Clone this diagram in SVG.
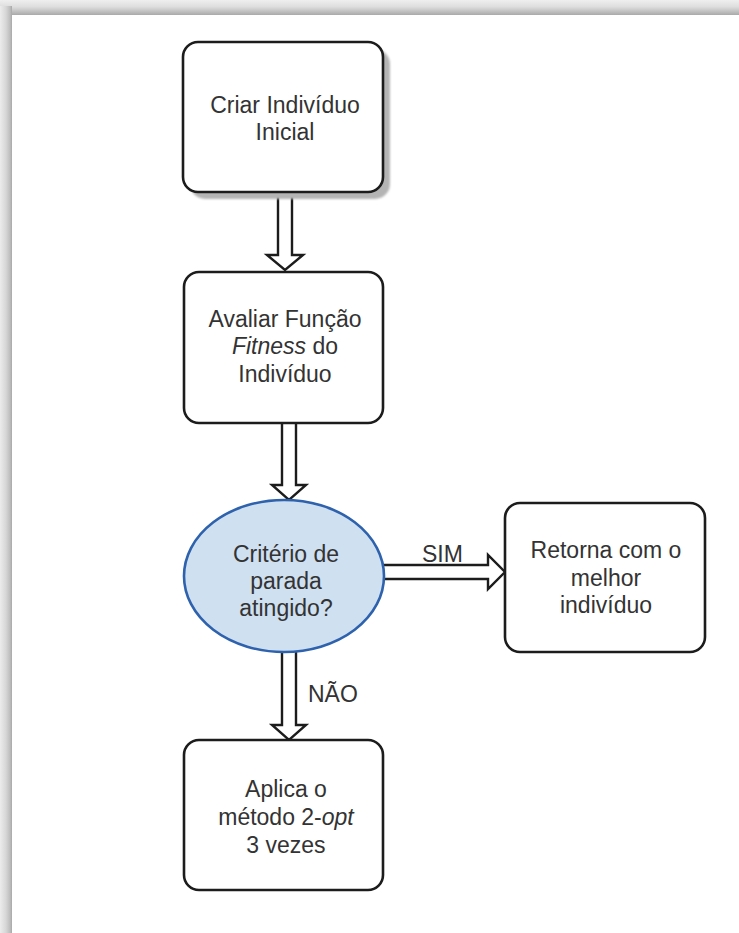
<svg xmlns="http://www.w3.org/2000/svg" width="739" height="933" viewBox="0 0 739 933">
  <defs>
    <linearGradient id="edgeTop" x1="0" y1="0" x2="0" y2="1">
      <stop offset="0" stop-color="#efefef"/>
      <stop offset="0.45" stop-color="#dedede"/>
      <stop offset="0.8" stop-color="#bdbdbd"/>
      <stop offset="1" stop-color="#a9a9a9"/>
    </linearGradient>
    <linearGradient id="edgeLeft" x1="0" y1="0" x2="1" y2="0">
      <stop offset="0" stop-color="#ececec"/>
      <stop offset="0.5" stop-color="#d6d6d6"/>
      <stop offset="0.85" stop-color="#bcbcbc"/>
      <stop offset="1" stop-color="#a8a8a8"/>
    </linearGradient>
    <filter id="soft" x="-10%" y="-10%" width="130%" height="130%">
      <feGaussianBlur stdDeviation="1.2"/>
    </filter>
  </defs>
  <style>
    .box { fill: #ffffff; stroke: #1c1c1c; stroke-width: 2.6; }
    .shadow { fill: #b4b4b4; }
    .decision { fill: #cfe0f1; stroke: #2e62ad; stroke-width: 2.6; }
    .label { font-family: "Liberation Sans", Arial, sans-serif; font-size: 23px; fill: #333333; text-anchor: middle; }
    .edge-label { font-family: "Liberation Sans", Arial, sans-serif; font-size: 23px; fill: #333333; }
    .arrow { fill: #ffffff; stroke: #1c1c1c; stroke-width: 2.4; stroke-linejoin: miter; }
  </style>

  <!-- page background with shaded top and left edges -->
  <rect x="0" y="0" width="739" height="933" fill="#ffffff"/>
  <rect x="0" y="0" width="739" height="15" fill="url(#edgeTop)"/>
  <rect x="0" y="6" width="12" height="927" fill="url(#edgeLeft)"/>

  <!-- connectors: hollow block arrows -->
  <g id="connectors">
    <path class="arrow" d="M278,193 L278,255 L267,255 L285,270 L303,255 L292,255 L292,193"/>
    <path class="arrow" d="M282,423 L282,485 L272,485 L289,500 L306,485 L296,485 L296,423"/>
    <path class="arrow" d="M382,565 L488,565 L488,555 L505,572 L488,589 L488,579 L382,579"/>
    <path class="arrow" d="M282,651 L282,725 L272,725 L289,740 L306,725 L296,725 L296,651"/>
    <text class="edge-label" x="422" y="562">SIM</text>
    <text class="edge-label" x="308" y="702">NÃO</text>
  </g>

  <g id="criar">
    <rect class="shadow" x="190" y="49" width="200" height="150" rx="15" filter="url(#soft)"/>
    <rect class="box" x="183" y="42" width="200" height="150" rx="15"/>
    <text class="label" x="285" y="113" fill="#222222">Criar Indivíduo</text>
    <text class="label" x="285" y="140" fill="#222222">Inicial</text>
  </g>

  <g id="avaliar">
    <rect class="box" x="184" y="272" width="199" height="151" rx="15"/>
    <text class="label" x="285" y="327">Avaliar Função</text>
    <text class="label" x="285" y="354"><tspan font-style="italic">Fitness</tspan> do</text>
    <text class="label" x="285" y="382">Indivíduo</text>
  </g>

  <g id="criterio">
    <ellipse class="decision" cx="284" cy="576" rx="100" ry="76"/>
    <text class="label" x="286" y="562">Critério de</text>
    <text class="label" x="286" y="589">parada</text>
    <text class="label" x="286" y="616">atingido?</text>
  </g>

  <g id="retorna">
    <rect class="box" x="505" y="503" width="200" height="149" rx="15"/>
    <text class="label" x="606" y="558">Retorna com o</text>
    <text class="label" x="606" y="586">melhor</text>
    <text class="label" x="606" y="613">indivíduo</text>
  </g>

  <g id="aplica">
    <rect class="box" x="184" y="740" width="199" height="150" rx="15"/>
    <text class="label" x="286" y="797">Aplica o</text>
    <text class="label" x="286" y="825">método 2-<tspan font-style="italic">opt</tspan></text>
    <text class="label" x="286" y="853">3 vezes</text>
  </g>
</svg>
